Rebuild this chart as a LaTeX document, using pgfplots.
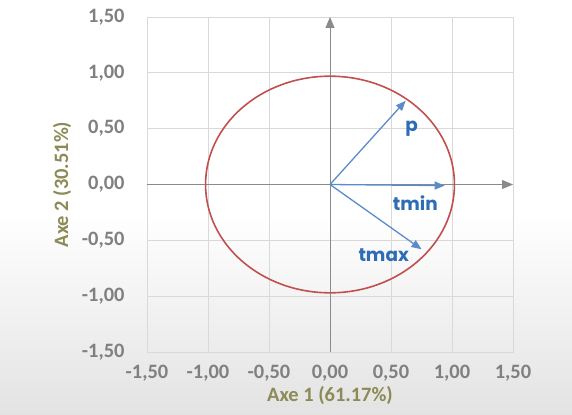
\documentclass[border=0pt]{standalone}
\usepackage{pgfplots}
\pgfplotsset{compat=1.18}
\usepackage{fontspec}
\setmainfont{Carlito}
\newfontfamily\lblfont{Poppins}
\usetikzlibrary{arrows.meta}
\definecolor{gridc}{HTML}{D9D9D9}
\definecolor{axisc}{HTML}{8A8A8A}
\definecolor{tickc}{HTML}{808080}
\definecolor{titlec}{HTML}{8C8A55}
\definecolor{circc}{HTML}{C0504D}
\definecolor{arrc}{HTML}{5B8BC9}
\definecolor{txtc}{HTML}{2E6DB5}
\begin{document}
\begin{tikzpicture}[x=1bp,y=1bp]
\fill[white] (0,200) rectangle (572,414);
\shade[top color=white, bottom color=black!11] (0,0) rectangle (572,200.5);
\begin{axis}[
  at={(147bp,62bp)}, anchor=south west,
  scale only axis, width=366bp, height=335bp,
  xmin=-1.5, xmax=1.5, ymin=-1.5, ymax=1.5,
  xtick={-1.5,-1,-0.5,0,0.5,1,1.5},
  ytick={-1.5,-1,-0.5,0,0.5,1,1.5},
  grid=major, grid style={gridc, line width=0.9pt},
  axis line style={gridc, line width=0.9pt},
  major tick style={draw=none},
  clip=false,
  /pgf/number format/fixed,
  /pgf/number format/fixed zerofill,
  /pgf/number format/precision=2,
  /pgf/number format/use comma,
  /pgf/number format/assume math mode=true,
  ticklabel style={font=\fontsize{20.5}{22}\selectfont\bfseries, text=tickc},
  xticklabel style={yshift=-10bp},
  yticklabel style={xshift=-19bp},
  xlabel={Axe 1 (61.17\%)},
  ylabel={Axe 2 (30.51\%)},
  label style={font=\fontsize{20.5}{22}\selectfont\bfseries, text=titlec},
  xlabel style={at={(axis description cs:0.5,-0.13)}, anchor=center},
  ylabel style={at={(axis description cs:-0.232,0.5)}, anchor=center},
]
\draw[axisc, line width=0.9pt, -{Triangle[length=11bp,width=9bp]}] (axis cs:-1.5,0) -- (axis cs:1.5,0);
\draw[axisc, line width=0.9pt, -{Triangle[length=11bp,width=9bp]}] (axis cs:0,-1.5) -- (axis cs:0,1.5);
\draw[circc, line width=1.6pt] (axis cs:0,0) ellipse [x radius=1.02, y radius=0.97];
\addplot[arrc, line width=1.3pt, -{Triangle[length=10bp,width=8bp]}] coordinates {(0,0) (0.62,0.75)};
\addplot[arrc, line width=1.3pt, -{Triangle[length=10bp,width=8bp]}] coordinates {(0,0) (0.94,-0.01)};
\addplot[arrc, line width=1.3pt, -{Triangle[length=10bp,width=8bp]}] coordinates {(0,0) (0.75,-0.58)};
\node[text=txtc, font=\lblfont\bfseries\fontsize{18.5}{20}\selectfont] at (axis cs:0.67,0.50) {p};
\node[text=txtc, font=\lblfont\bfseries\fontsize{18.5}{20}\selectfont] at (axis cs:0.70,-0.165) {tmin};
\node[text=txtc, font=\lblfont\bfseries\fontsize{18.5}{20}\selectfont] at (axis cs:0.44,-0.635) {tmax};
\end{axis}
\end{tikzpicture}
\end{document}
